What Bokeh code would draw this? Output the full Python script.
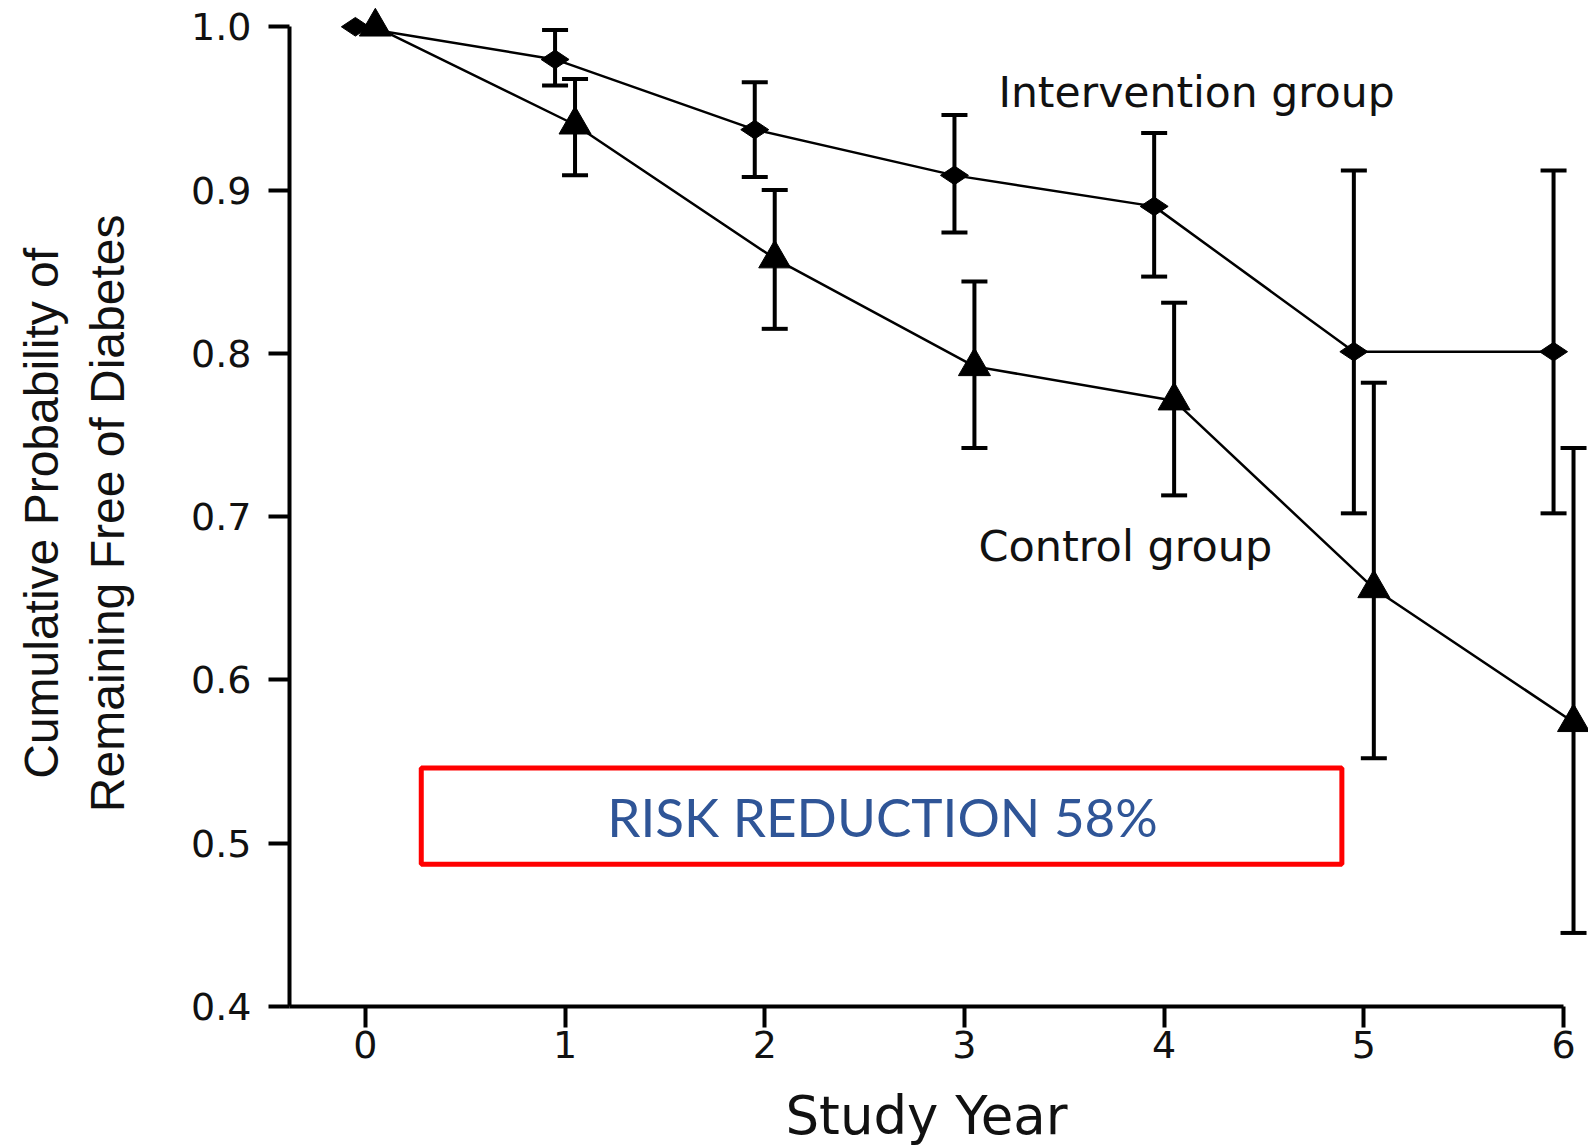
from bokeh.plotting import figure
from bokeh.models import ColumnDataSource, Whisker, TeeHead, Label, FixedTicker, NumeralTickFormatter
from bokeh.embed import file_html
from bokeh.resources import INLINE
import math

# ---- data ----
years = [0, 1, 2, 3, 4, 5, 6]
intervention = [1.0, 0.980, 0.937, 0.909, 0.890, 0.801, 0.801]
intervention_upper = [1.0, 0.998, 0.966, 0.946, 0.935, 0.912, 0.912]
intervention_lower = [1.0, 0.964, 0.908, 0.874, 0.847, 0.702, 0.702]
control = [1.0, 0.940, 0.858, 0.792, 0.771, 0.656, 0.574]
control_upper = [1.0, 0.968, 0.900, 0.844, 0.831, 0.782, 0.742]
control_lower = [1.0, 0.909, 0.815, 0.742, 0.713, 0.552, 0.445]
y_ticks = [0.4, 0.5, 0.6, 0.7, 0.8, 0.9, 1.0]
x_ticks = [0, 1, 2, 3, 4, 5, 6]
x_title = "Study Year"
y_title_lines = ["Cumulative Probability of", "Remaining Free of Diabetes"]

DODGE = 0.05
xi = [v - DODGE for v in years]
xc = [v + DODGE for v in years]
src_i = ColumnDataSource(dict(x=xi, y=intervention))
src_c = ColumnDataSource(dict(x=xc, y=control))
# error bars only where there is an interval
src_ie = ColumnDataSource(dict(x=xi[1:], up=intervention_upper[1:], lo=intervention_lower[1:]))
src_ce = ColumnDataSource(dict(x=xc[1:], up=control_upper[1:], lo=control_lower[1:]))

# axes are pinned inside the canvas (fixed_location) so that the titles can sit
# around them without changing the plot area
X0, Y0 = -0.38, 0.4
p = figure(width=1588, height=1146, output_backend="svg", toolbar_location=None,
           x_range=(-1.827, 6.125), y_range=(0.3142, 1.0161),
           min_border_left=0, min_border_right=0, min_border_top=0, min_border_bottom=0)
p.outline_line_color = None
p.xgrid.visible = False
p.ygrid.visible = False
p.background_fill_color = "white"
p.border_fill_color = "white"

tick_font = "DejaVu Sans"
for ax in (p.xaxis[0], p.yaxis[0]):
    ax.axis_line_width = 4
    ax.axis_line_color = "black"
    ax.major_tick_line_width = 4
    ax.major_tick_line_color = "black"
    ax.major_tick_out = 21
    ax.major_tick_in = 0
    ax.minor_tick_line_color = None
    ax.major_label_text_font = tick_font
    ax.major_label_text_font_size = "38px"
    ax.major_label_text_color = "#111111"

p.xaxis.ticker = FixedTicker(ticks=x_ticks)
p.yaxis.ticker = FixedTicker(ticks=y_ticks)
p.yaxis.formatter = NumeralTickFormatter(format="0.0")
p.xaxis.fixed_location = Y0
p.yaxis.fixed_location = X0
p.xaxis.bounds = (X0, 6)
p.yaxis.bounds = (Y0, 1.0)
p.xaxis.major_label_standoff = 4
p.yaxis.major_label_standoff = 17

# axis titles
p.add_layout(Label(x=2.81, y=0.333, text=x_title, text_font="DejaVu Sans",
                   text_font_size="53px", text_align="center", text_baseline="middle",
                   text_color="#111111"))
p.add_layout(Label(x=-1.623, y=0.702, text=y_title_lines[0], text_font="Liberation Sans",
                   text_font_size="48px", text_align="center", text_baseline="middle",
                   angle=math.pi / 2, text_color="#111111"))
p.add_layout(Label(x=-1.293, y=0.702, text=y_title_lines[1], text_font="Liberation Sans",
                   text_font_size="48px", text_align="center", text_baseline="middle",
                   angle=math.pi / 2, text_color="#111111"))

# lines
p.line("x", "y", source=src_i, line_color="black", line_width=2.5)
p.line("x", "y", source=src_c, line_color="black", line_width=2.5)

# error bars
for s in (src_ie, src_ce):
    w = Whisker(base="x", upper="up", lower="lo", source=s, dimension="height",
                line_color="black", line_width=4,
                upper_head=TeeHead(size=26, line_width=4, line_color="black"),
                lower_head=TeeHead(size=26, line_width=4, line_color="black"))
    w.level = "glyph"
    p.add_layout(w)

# markers
p.scatter("x", "y", source=src_i, marker="diamond", size=28, angle=math.pi / 2,
          fill_color="black", line_color="black")
p.scatter("x", "y", source=src_c, marker="triangle", size=32,
          fill_color="black", line_color="black")

# group labels
p.add_layout(Label(x=3.17, y=0.960, text="Intervention group", text_font="DejaVu Sans",
                   text_font_size="42.5px", text_baseline="middle", text_color="#111111"))
p.add_layout(Label(x=3.07, y=0.682, text="Control group", text_font="DejaVu Sans",
                   text_font_size="43px", text_baseline="middle", text_color="#111111"))

# red box with risk reduction
p.quad(left=[0.28], right=[4.89], bottom=[0.487], top=[0.546],
       fill_color=None, line_color="#FF0000", line_width=5)
p.add_layout(Label(x=2.59, y=0.5165, text="RISK REDUCTION 58%", text_font="Lato",
                   text_font_size="53px", text_align="center", text_baseline="middle",
                   text_color="#2F5597"))

open("out.html", "w").write(file_html(p, INLINE))
